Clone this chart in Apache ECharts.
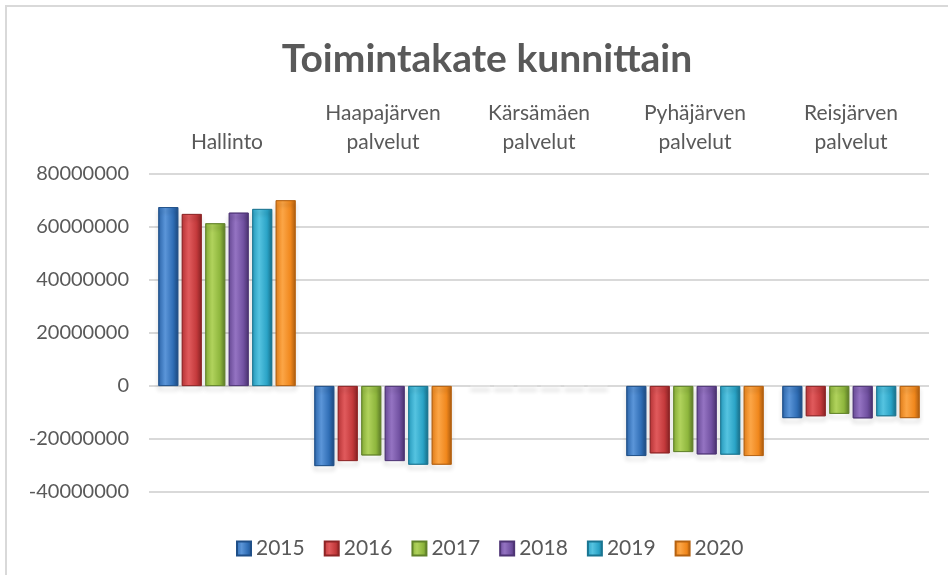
<html>
<head>
    <meta charset="utf-8">
    <title>Toimintakate kunnittain</title>
    <script src="https://cdn.jsdelivr.net/npm/echarts@6/dist/echarts.min.js"></script>
</head>
<body style="margin:0;background:#fff;">
    <div id="main" style="height:575px;width:948px;"></div>
    <script type="text/javascript">
    var myChart = echarts.init(document.getElementById('main'));

    // kategoriat ja vuodet
    var categories = ['Hallinto', 'Haapajärven\npalvelut', 'Kärsämäen\npalvelut', 'Pyhäjärven\npalvelut', 'Reisjärven\npalvelut'];
    var years = ['2015', '2016', '2017', '2018', '2019', '2020'];

    // arvot vuosittain (luettu kuvasta)
    var v2015 = [67500000, -30200000, 0, -26400000, -12100000];
    var v2016 = [64900000, -28300000, 0, -25400000, -11400000];
    var v2017 = [61400000, -26200000, 0, -24900000, -10500000];
    var v2018 = [65400000, -28300000, 0, -25800000, -12200000];
    var v2019 = [66800000, -29700000, 0, -25900000, -11400000];
    var v2020 = [70100000, -29700000, 0, -26400000, -12100000];
    var values = [v2015, v2016, v2017, v2018, v2019, v2020];

    var yTicks = { min: -40000000, max: 80000000, interval: 20000000 };

    // värit: [vaalea, perus, tumma]
    var colors = [
        ['#5b95d8', '#2f6db5', '#1f4f88'],
        ['#e05a5c', '#c3393b', '#8e2526'],
        ['#b0d25c', '#8db53c', '#61822a'],
        ['#9473c2', '#7050a0', '#4e3575'],
        ['#55c3e0', '#2aa3c6', '#1a7591'],
        ['#fba546', '#f0871c', '#b56211']
    ];

    function barColor(c) {
        return new echarts.graphic.LinearGradient(0, 0, 1, 0, [
            { offset: 0, color: c[1] },
            { offset: 0.35, color: c[0] },
            { offset: 0.75, color: c[1] },
            { offset: 1, color: c[2] }
        ]);
    }

    var series = [];
    for (var i = 0; i < years.length; i++) {
        series.push({
            name: years[i],
            type: 'bar',
            barGap: '18%',
            barCategoryGap: '12%',
            data: values[i].map(function (v) {
                // nollapylväät näkyvät kuvassa vain haaleana varjona
                return v === 0 ? { value: v, itemStyle: { borderColor: '#e6e6e6' } } : v;
            }),
            itemStyle: {
                color: barColor(colors[i]),
                borderColor: colors[i][2],
                borderWidth: 0.8,
                shadowColor: 'rgba(0,0,0,0.3)',
                shadowBlur: 4,
                shadowOffsetY: 4
            }
        });
    }

    var option = {
        backgroundColor: '#fff',
        color: colors.map(function (c) { return c[1]; }),
        graphic: [{
            type: 'rect',
            shape: { x: 6, y: 6, width: 980, height: 620 },
            style: { fill: 'none', stroke: '#d9d9d9', lineWidth: 2 },
            silent: true
        }],
        title: {
            text: 'Toimintakate kunnittain',
            left: 482,
            textAlign: 'center',
            top: 35,
            textStyle: {
                fontFamily: 'Lato',
                fontWeight: 'bold',
                fontSize: 39,
                color: '#595959'
            }
        },
        legend: {
            data: years,
            left: 231,
            top: 533,
            itemWidth: 14,
            itemHeight: 14,
            itemGap: 19,
            icon: 'rect',
            textStyle: {
                fontFamily: 'Lato',
                fontSize: 21,
                color: '#595959'
            }
        },
        grid: {
            left: 149,
            right: 19,
            top: 174,
            bottom: 83
        },
        xAxis: {
            type: 'category',
            position: 'top',
            data: categories,
            axisLine: { show: false },
            axisTick: { show: false },
            axisLabel: {
                interval: 0,
                margin: 17,
                fontFamily: 'Lato',
                fontSize: 21,
                lineHeight: 29,
                color: '#595959'
            }
        },
        yAxis: {
            type: 'value',
            min: yTicks.min,
            max: yTicks.max,
            interval: yTicks.interval,
            axisLine: { show: false },
            axisTick: { show: false },
            axisLabel: {
                margin: 20,
                fontFamily: 'Lato',
                fontSize: 20,
                color: '#595959',
                formatter: function (v) { return String(v); }
            },
            splitLine: {
                lineStyle: { color: '#d9d9d9', width: 2 }
            }
        },
        series: series
    };
    myChart.setOption(option);
    </script>
</body>
</html>
